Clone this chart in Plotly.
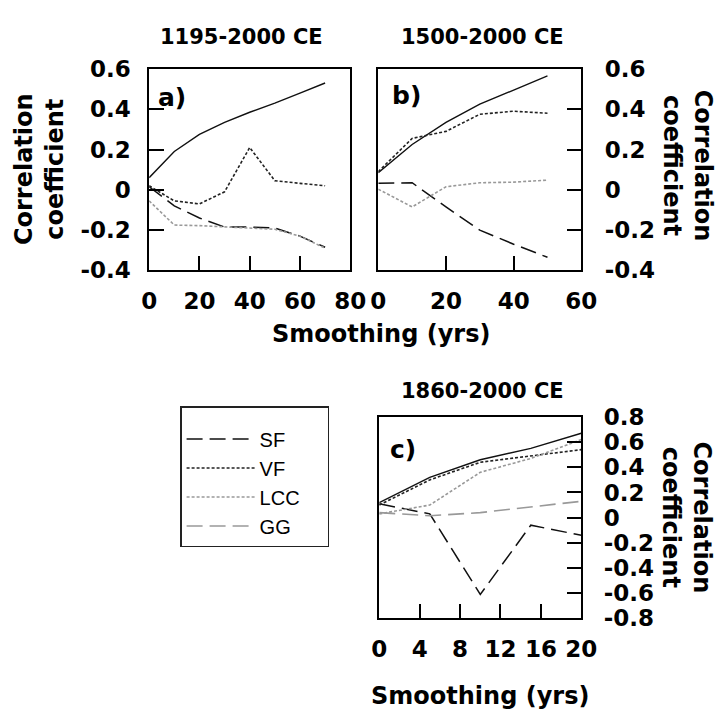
import plotly.graph_objects as go

# ---------------- data ----------------
smooth_a = [0, 10, 20, 30, 40, 50, 60, 70]
a_total = [0.06, 0.19, 0.275, 0.335, 0.385, 0.43, 0.48, 0.53]
a_sf = [0.015, -0.08, -0.14, -0.185, -0.185, -0.19, -0.23, -0.285]
a_vf = [0.02, -0.055, -0.07, -0.01, 0.21, 0.045, 0.032, 0.02]
a_lcc = [-0.055, -0.175, -0.178, -0.183, -0.188, -0.196, -0.23, -0.29]

smooth_b = [0, 10, 20, 30, 40, 50]
b_total = [0.085, 0.225, 0.335, 0.425, 0.495, 0.565]
b_vf = [0.09, 0.255, 0.29, 0.375, 0.39, 0.38]
b_sf = [0.032, 0.035, -0.085, -0.2, -0.27, -0.335]
b_lcc = [0.003, -0.085, 0.015, 0.035, 0.038, 0.048]

smooth_c = [0, 5, 10, 15, 20]
c_total = [0.12, 0.32, 0.46, 0.55, 0.67]
c_vf = [0.10, 0.30, 0.44, 0.49, 0.54]
c_lcc = [0.03, 0.10, 0.36, 0.47, 0.62]
c_sf = [0.11, 0.03, -0.61, -0.06, -0.14]
c_gg = [0.04, 0.015, 0.04, 0.085, 0.13]

yt_ab = [0.6, 0.4, 0.2, 0, -0.2, -0.4]
yt_ab_text = ["0.6", "0.4", "0.2", "0", "-0.2", "-0.4"]
yt_c = [0.8, 0.6, 0.4, 0.2, 0, -0.2, -0.4, -0.6, -0.8]
yt_c_text = ["0.8", "0.6", "0.4", "0.2", "0", "-0.2", "-0.4", "-0.6", "-0.8"]
xt_a = [0, 20, 40, 60, 80]
xt_b = [0, 20, 40, 60]
xt_c = [0, 4, 8, 12, 16, 20]

titles = ["1195-2000 CE", "1500-2000 CE", "1860-2000 CE"]
panel_labels = ["a)", "b)", "c)"]
xlabel = "Smoothing (yrs)"
ylabel = "Correlation<br>coefficient"
legend_names = {"SF": "SF", "VF": "VF", "LCC": "LCC", "GG": "GG"}

# ---------------- styles ----------------
STY = {
    "total": dict(color="#111111", width=1.4, dash="solid"),
    "SF": dict(color="#111111", width=1.5, dash="16px,7px"),
    "VF": dict(color="#222222", width=1.6, dash="3px,2px"),
    "LCC": dict(color="#999999", width=1.6, dash="3px,2px"),
    "GG": dict(color="#999999", width=1.6, dash="16px,7px"),
}
PAD = "\u00a0" * 4  # right padding inside legend box

fig = go.Figure()


def add(x, y, key, xa, ya, show):
    name = legend_names[key] + PAD if key in legend_names else "All"
    fig.add_trace(go.Scatter(
        x=x, y=y, mode="lines", name=name,
        line=STY[key], xaxis=xa, yaxis=ya, showlegend=show,
        legendgroup=key, hoverinfo="skip"))


# legend entries (panel c) in order
add(smooth_c, c_sf, "SF", "x3", "y3", True)
add(smooth_c, c_vf, "VF", "x3", "y3", True)
add(smooth_c, c_lcc, "LCC", "x3", "y3", True)
add(smooth_c, c_gg, "GG", "x3", "y3", True)
add(smooth_c, c_total, "total", "x3", "y3", False)

add(smooth_a, a_total, "total", "x", "y", False)
add(smooth_a, a_sf, "SF", "x", "y", False)
add(smooth_a, a_vf, "VF", "x", "y", False)
add(smooth_a, a_lcc, "LCC", "x", "y", False)

add(smooth_b, b_total, "total", "x2", "y2", False)
add(smooth_b, b_sf, "SF", "x2", "y2", False)
add(smooth_b, b_vf, "VF", "x2", "y2", False)
add(smooth_b, b_lcc, "LCC", "x2", "y2", False)

W, H = 723, 722


def px(x):
    return x / W


def py(y):
    return 1 - y / H


tickfont = dict(family="DejaVu Sans", size=23, weight="bold", color="black")
common = dict(showline=True, linecolor="black", linewidth=1.5, mirror=True,
              ticks="inside", ticklen=15, tickwidth=1.5, tickcolor="black",
              showgrid=False, zeroline=False, tickfont=tickfont, tickmode="array")

fig.update_layout(
    width=W, height=H, margin=dict(l=0, r=0, t=0, b=0),
    paper_bgcolor="white", plot_bgcolor="white",
    xaxis=dict(common, domain=[px(146), px(354)], range=[0, 80], tickvals=xt_a,
               anchor="y", ticklabelstandoff=9),
    yaxis=dict(common, domain=[py(267), py(58)], range=[-0.4, 0.6], tickvals=yt_ab,
               ticktext=yt_ab_text, anchor="x", side="left", ticklabelstandoff=12),
    xaxis2=dict(common, domain=[px(383), px(593)], range=[0, 60], tickvals=xt_b,
                anchor="y2", ticklabelstandoff=9),
    yaxis2=dict(common, domain=[py(267), py(58)], range=[-0.4, 0.6], tickvals=yt_ab,
                ticktext=yt_ab_text, anchor="x2", side="right", ticklabelstandoff=17),
    xaxis3=dict(common, domain=[px(384), px(593)], range=[0, 20], tickvals=xt_c,
                anchor="y3", ticklabelstandoff=9),
    yaxis3=dict(common, domain=[py(628), py(419)], range=[-0.8, 0.8], tickvals=yt_c,
                ticktext=yt_c_text, anchor="x3", side="right", ticklabelstandoff=16),
    legend=dict(x=px(178), y=py(408), xanchor="left", yanchor="top",
                bordercolor="#222222", borderwidth=1.5, bgcolor="white",
                font=dict(family="Liberation Sans", size=20, color="black"),
                title=dict(text="\u00a0", font=dict(size=9)),
                itemwidth=68, traceorder="normal", tracegroupgap=0),
)

bold = dict(family="DejaVu Sans", weight="bold", color="black")
ann = []
for t, (x, y) in zip(titles, [(241, 25), (491, 25), (491, 392)]):
    ann.append(dict(text=t, x=px(x), y=py(y), font=dict(bold, size=21)))
for t, (x, y) in zip(panel_labels, [(170, 88), (412, 86), (409, 453)]):
    ann.append(dict(text=t, x=px(x), y=py(y), font=dict(bold, size=25)))
for (x, y) in [(386, 333), (488, 708)]:
    ann.append(dict(text=xlabel, x=px(x), y=py(y), font=dict(bold, size=24)))
for (x, y, a) in [(32, 162, -90), (703, 158, 90), (702, 523, 90)]:
    ann.append(dict(text=ylabel, x=px(x), y=py(y), textangle=a,
                    font=dict(bold, size=24)))
for a in ann:
    a.update(xref="paper", yref="paper", showarrow=False,
             xanchor="center", yanchor="middle")
fig.update_layout(annotations=ann)

fig.write_html("out.html")
